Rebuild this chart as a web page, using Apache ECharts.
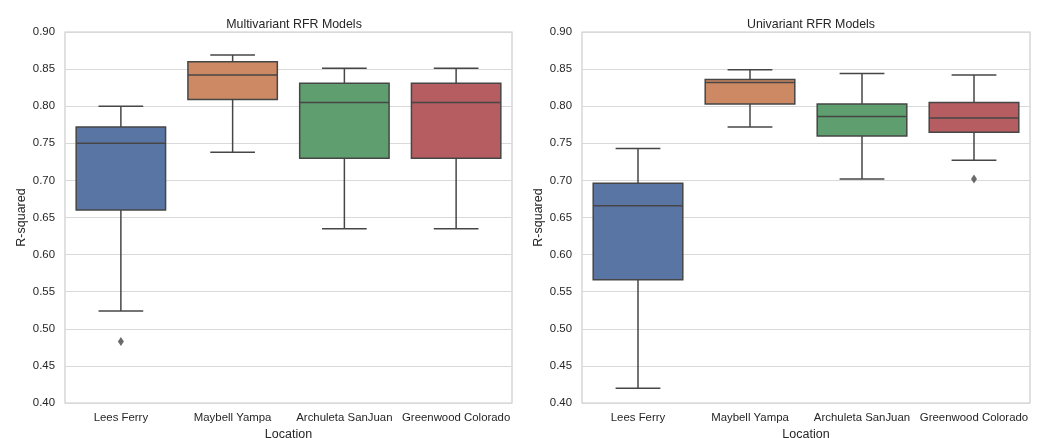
<!DOCTYPE html>
<html>
<head>
<meta charset="utf-8">
<script src="https://cdn.jsdelivr.net/npm/echarts@6/dist/echarts.min.js"></script>
<style>
  html, body { margin: 0; padding: 0; background: #fff; }
  #chart { width: 1040px; height: 438px; }
</style>
</head>
<body>
<div id="chart"></div>
<script>
  // categories on both panels
  const locations = ['Lees Ferry', 'Maybell Yampa', 'Archuleta SanJuan', 'Greenwood Colorado'];

  // [min, q1, median, q3, max] per location
  const multiBoxes = [
    [0.524, 0.660, 0.750, 0.772, 0.800],
    [0.738, 0.809, 0.842, 0.860, 0.869],
    [0.635, 0.730, 0.805, 0.831, 0.851],
    [0.635, 0.730, 0.805, 0.831, 0.851]
  ];
  const uniBoxes = [
    [0.420, 0.566, 0.666, 0.696, 0.743],
    [0.772, 0.803, 0.832, 0.836, 0.849],
    [0.702, 0.760, 0.786, 0.803, 0.844],
    [0.727, 0.765, 0.784, 0.805, 0.842]
  ];

  // outliers [categoryIndex, value]
  const multiOutliers = [[0, 0.483]];
  const uniOutliers = [[3, 0.702]];

  const palette = ['#5975a4', '#cc8963', '#5f9e6e', '#b55d60'];
  const lineColor = '#464646';
  const textColor = '#262626';
  const font = 'Liberation Sans, Arial, sans-serif';

  function renderBox(params, api) {
    const i = api.value(0);
    const lo = api.coord([i, api.value(1)]);
    const q1 = api.coord([i, api.value(2)]);
    const md = api.coord([i, api.value(3)]);
    const q3 = api.coord([i, api.value(4)]);
    const hi = api.coord([i, api.value(5)]);
    const w = api.size([1, 0])[0] * 0.8;
    const x = lo[0];
    const cap = w / 4;
    const ls = { stroke: lineColor, lineWidth: 1.5 };
    return {
      type: 'group',
      children: [
        { type: 'line', shape: { x1: x, y1: q3[1], x2: x, y2: hi[1] }, style: ls },
        { type: 'line', shape: { x1: x, y1: q1[1], x2: x, y2: lo[1] }, style: ls },
        { type: 'line', shape: { x1: x - cap, y1: hi[1], x2: x + cap, y2: hi[1] }, style: ls },
        { type: 'line', shape: { x1: x - cap, y1: lo[1], x2: x + cap, y2: lo[1] }, style: ls },
        { type: 'rect', shape: { x: x - w / 2, y: q3[1], width: w, height: q1[1] - q3[1] },
          style: { fill: palette[i], stroke: lineColor, lineWidth: 1.5 } },
        { type: 'line', shape: { x1: x - w / 2, y1: md[1], x2: x + w / 2, y2: md[1] }, style: ls }
      ]
    };
  }

  function boxData(boxes) {
    return boxes.map((b, i) => [i].concat(b));
  }

  function xAxis(idx) {
    return {
      type: 'category', gridIndex: idx, data: locations,
      name: 'Location', nameLocation: 'middle', nameGap: 24,
      nameTextStyle: { color: textColor, fontSize: 12.5, fontFamily: font },
      axisLine: { show: false }, axisTick: { show: false },
      axisLabel: { color: textColor, fontSize: 11.4, fontFamily: font, margin: 9, interval: 0 },
      splitLine: { show: false }
    };
  }

  function yAxis(idx) {
    return {
      type: 'value', gridIndex: idx, min: 0.4, max: 0.9, interval: 0.05,
      name: 'R-squared', nameLocation: 'middle', nameGap: 37,
      nameTextStyle: { color: textColor, fontSize: 12.5, fontFamily: font },
      axisLine: { show: false }, axisTick: { show: false },
      axisLabel: { color: textColor, fontSize: 11.4, fontFamily: font, margin: 10,
        formatter: v => v.toFixed(2) },
      splitLine: { lineStyle: { color: '#d9d9d9', width: 1 } }
    };
  }

  const chart = echarts.init(document.getElementById('chart'), null, { renderer: 'canvas' });
  chart.setOption({
    animation: false,
    backgroundColor: '#fff',
    title: [
      { text: 'Multivariant RFR Models', left: 289, top: 14, textAlign: 'center',
        textStyle: { color: textColor, fontSize: 12.4, fontWeight: 'normal', fontFamily: font } },
      { text: 'Univariant RFR Models', left: 806, top: 14, textAlign: 'center',
        textStyle: { color: textColor, fontSize: 12.4, fontWeight: 'normal', fontFamily: font } }
    ],
    grid: [
      { left: 65, right: 528, top: 32, bottom: 35, show: true, borderColor: '#cccccc', borderWidth: 1.2,
        backgroundColor: '#fff', containLabel: false, outerBoundsMode: 'none' },
      { left: 582, right: 10, top: 32, bottom: 35, show: true, borderColor: '#cccccc', borderWidth: 1.2,
        backgroundColor: '#fff', containLabel: false, outerBoundsMode: 'none' }
    ],
    xAxis: [xAxis(0), xAxis(1)],
    yAxis: [yAxis(0), yAxis(1)],
    series: [
      { type: 'custom', xAxisIndex: 0, yAxisIndex: 0, renderItem: renderBox,
        encode: { x: 0, y: [1, 2, 3, 4, 5] }, data: boxData(multiBoxes) },
      { type: 'custom', xAxisIndex: 1, yAxisIndex: 1, renderItem: renderBox,
        encode: { x: 0, y: [1, 2, 3, 4, 5] }, data: boxData(uniBoxes) },
      { type: 'scatter', xAxisIndex: 0, yAxisIndex: 0, symbol: 'diamond', symbolSize: [6, 9],
        itemStyle: { color: lineColor }, data: multiOutliers },
      { type: 'scatter', xAxisIndex: 1, yAxisIndex: 1, symbol: 'diamond', symbolSize: [6, 9],
        itemStyle: { color: lineColor }, data: uniOutliers }
    ]
  });
</script>
</body>
</html>
